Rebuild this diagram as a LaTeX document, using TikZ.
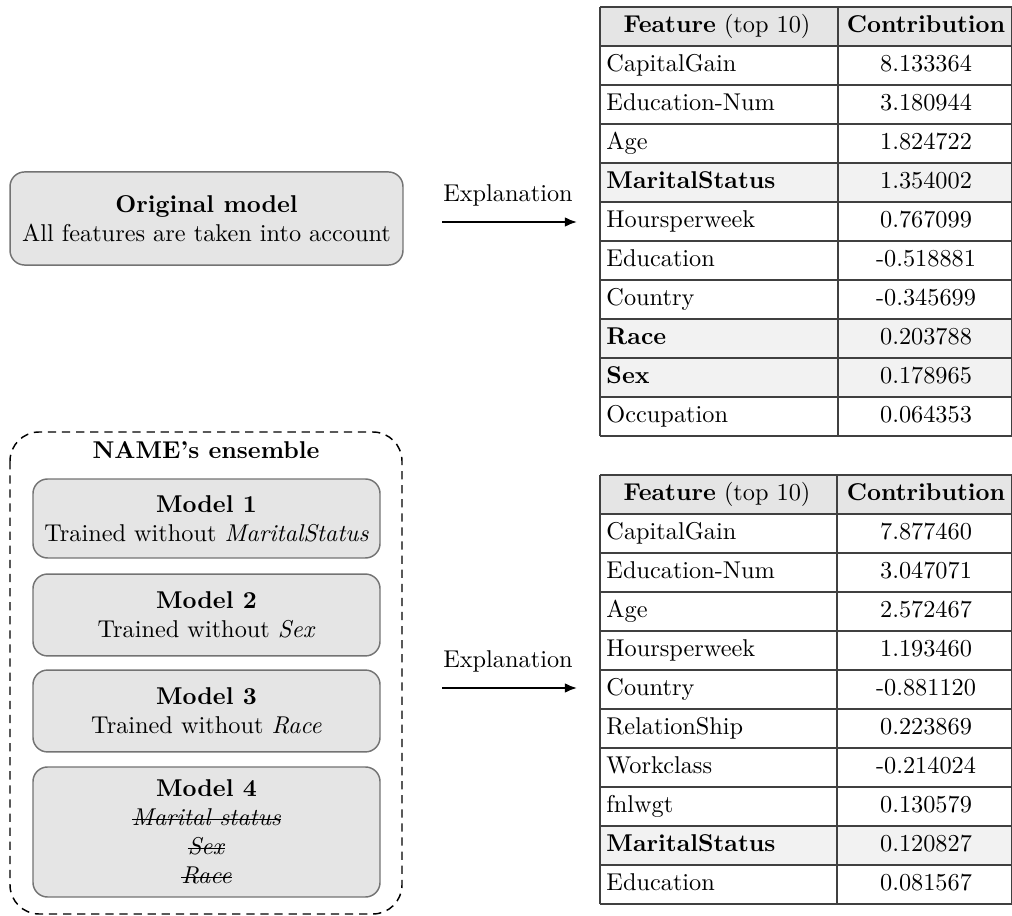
\documentclass[tikz,border=0pt]{standalone}
\usetikzlibrary{arrows.meta}
\newcommand\mystrike[1]{\setbox0\hbox{#1}\rlap{\rule[0.55ex]{\wd0}{0.4pt}}\box0}
\begin{document}
\begin{tikzpicture}[x=0.4115pt,y=-0.4115pt,
  modelbox/.style={draw=black!55, fill=black!10, line width=0.6pt, rounded corners=6pt, align=center, inner sep=0pt},
  ensbox/.style={draw=black, line width=0.6pt, dash pattern=on 3.4pt off 2.4pt, rounded corners=12pt},
  tline/.style={draw=black!75, line width=0.5pt},
  lcell/.style={anchor=west, inner sep=0pt, text height=6.9pt, text depth=1.9pt},
  ccell/.style={anchor=center, inner sep=0pt, text height=6.9pt, text depth=1.9pt},
  expl/.style={inner sep=0pt},
  arr/.style={line width=0.8pt, -{Latex[length=5pt,width=4pt]}}
]
\useasboundingbox (0,0) rectangle (1012,916);

% ---------- original model ----------
\node[modelbox, minimum width=161.7pt, minimum height=38.3pt] (orig) at (206.5,218.5)
  {\textbf{Original model}\\All features are taken into account};

% ---------- ensemble ----------
\draw[ensbox] (10,432) rectangle (402,914);
\coordinate (ensc) at (206,450);
\node[inner sep=0pt] (enslabel) at (ensc) {\textbf{NAME's ensemble}};
\node[modelbox, minimum width=142.8pt, minimum height=32.5pt] (m1) at (206.5,518.5)
  {\textbf{Model 1}\\Trained without \textit{MaritalStatus}};
\node[modelbox, minimum width=142.8pt, minimum height=33.7pt] (m2) at (206.5,615)
  {\textbf{Model 2}\\Trained without \textit{Sex}};
\node[modelbox, minimum width=142.8pt, minimum height=33.7pt] (m3) at (206.5,711)
  {\textbf{Model 3}\\Trained without \textit{Race}};
\node[modelbox, minimum width=142.8pt, minimum height=53.5pt] (m4) at (206.5,832)
  {\textbf{Model 4}\\\mystrike{\textit{Marital status}}\\\mystrike{\textit{Sex}}\\\mystrike{\textit{Race}}};

% ---------- arrows ----------
\coordinate (a1s) at (442,222);
\coordinate (a1e) at (577,222);
\draw[arr] (a1s) -- (a1e);
\node[expl] (e1) at (508,195) {Explanation};
\coordinate (a2s) at (442,688);
\coordinate (a2e) at (577,688);
\draw[arr] (a2s) -- (a2e);
\node[expl] (e2) at (508,661) {Explanation};

% ---------- table 1 ----------
\fill[black!10] (600,7) rectangle (1011.5,46);
\foreach \k in {4,8,9} {
  \fill[black!5] (600,{7+39*\k}) rectangle (1011.5,{46+39*\k});
}
\foreach \k in {0,...,11} {
  \draw[tline] (600,{7+39*\k}) -- (1011.5,{7+39*\k});
}
\draw[tline] (600,7) -- (600,436);
\draw[tline] (838,7) -- (838,436);
\draw[tline] (1011.5,7) -- (1011.5,436);
\node[ccell] (t1h1) at (717,26.5) {\textbf{Feature} (top 10)};
\node[ccell] (t1h2) at (926,26.5) {\textbf{Contribution}};
\foreach \n/\f/\v in {1/CapitalGain/8.133364, 2/Education-Num/3.180944, 3/Age/1.824722,
  4/\textbf{MaritalStatus}/1.354002, 5/Hoursperweek/0.767099, 6/Education/-0.518881,
  7/Country/-0.345699, 8/\textbf{Race}/0.203788, 9/\textbf{Sex}/0.178965, 10/Occupation/0.064353} {
  \node[lcell] (t1f\n) at (606,{26.5+39*\n}) {\f};
  \node[ccell] (t1v\n) at (926,{26.5+39*\n}) {\v};
}

% ---------- table 2 ----------
\fill[black!10] (600,475) rectangle (1011.5,514);
\fill[black!5] (600,{475+39*9}) rectangle (1011.5,{514+39*9});
\foreach \k in {0,...,11} {
  \draw[tline] (600,{475+39*\k}) -- (1011.5,{475+39*\k});
}
\draw[tline] (600,475) -- (600,904);
\draw[tline] (837,475) -- (837,904);
\draw[tline] (1011.5,475) -- (1011.5,904);
\node[ccell] (t2h1) at (717,494.5) {\textbf{Feature} (top 10)};
\node[ccell] (t2h2) at (926,494.5) {\textbf{Contribution}};
\foreach \n/\f/\v in {1/CapitalGain/7.877460, 2/Education-Num/3.047071, 3/Age/2.572467,
  4/Hoursperweek/1.193460, 5/Country/-0.881120, 6/RelationShip/0.223869,
  7/Workclass/-0.214024, 8/fnlwgt/0.130579, 9/\textbf{MaritalStatus}/0.120827, 10/Education/0.081567} {
  \node[lcell] (t2f\n) at (606,{494.5+39*\n}) {\f};
  \node[ccell] (t2v\n) at (926,{494.5+39*\n}) {\v};
}
\end{tikzpicture}
\end{document}
